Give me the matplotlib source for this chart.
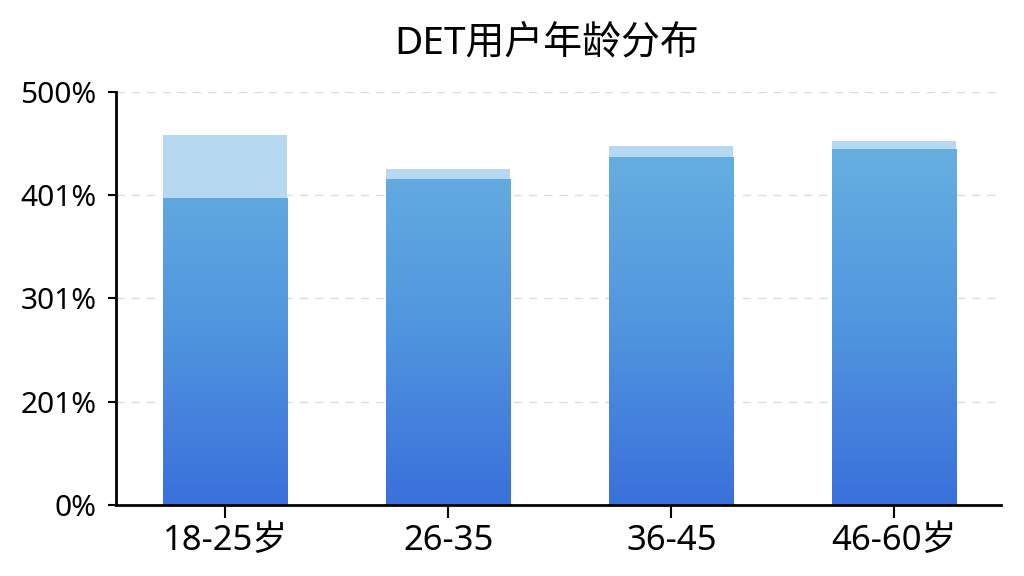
import matplotlib
matplotlib.use("Agg")
import matplotlib.pyplot as plt
import numpy as np
from matplotlib.colors import LinearSegmentedColormap

plt.rcParams['font.family'] = ['Noto Sans', 'Noto Sans CJK SC', 'DejaVu Sans']

# data (axis units, 0-500)
categories = ["18-25岁", "26-35", "36-45", "46-60岁"]
main_vals = [372.0, 394.7, 421.7, 430.7]
top_vals = [76.0, 12.1, 13.3, 10.4]
ytick_pos = [0, 125, 250, 375, 500]
ytick_labels = ["0%", "201%", "301%", "401%", "500%"]
title = "DET用户年龄分布"

fig = plt.figure(figsize=(10.24, 5.76), dpi=100)
ax = fig.add_axes([0.1133, 0.1233, 0.8642, 0.717])

x = np.arange(len(categories))
width = 0.556

bars = ax.bar(x, main_vals, width=width, color="none", edgecolor="none", zorder=3)
ax.bar(x, top_vals, width=width, bottom=main_vals, color="#b6d8f0",
       edgecolor="none", zorder=3)

# vertical gradient inside main bars
cmap = LinearSegmentedColormap.from_list("g", ["#3a70db", "#5196de", "#68b0e1"])
grad = np.linspace(0, 1, 256).reshape(-1, 1)
for b in bars:
    x0 = b.get_x()
    h = b.get_height()
    im = ax.imshow(grad[: int(256 * h / 440)], cmap=cmap, vmin=0, vmax=1,
                   origin="lower", aspect="auto",
                   extent=[x0, x0 + b.get_width(), 0, h], zorder=2.5)
    im.set_clip_path(b)
    b.set_zorder(2.5)

ax.set_xlim(-0.489, 3.478)
ax.set_ylim(0, 500)
ax.set_yticks(ytick_pos)
ax.set_yticklabels(ytick_labels, fontsize=21.5)
ax.set_xticks(x)
ax.set_xticklabels(categories, fontsize=25)
ax.tick_params(axis="y", length=6, width=1.5, pad=8)
ax.tick_params(axis="x", length=9, width=1.5, pad=5)

for y in ytick_pos[1:]:
    ax.axhline(y, color="#dddddd", linestyle=(0, (6, 5)), linewidth=1, zorder=1)

for s in ["top", "right"]:
    ax.spines[s].set_visible(False)
ax.spines["left"].set_linewidth(2)
ax.spines["bottom"].set_linewidth(2)

fig.text(0.534, 0.925, title, ha="center", va="center", fontsize=28)

fig.savefig("out.png", dpi=100)
